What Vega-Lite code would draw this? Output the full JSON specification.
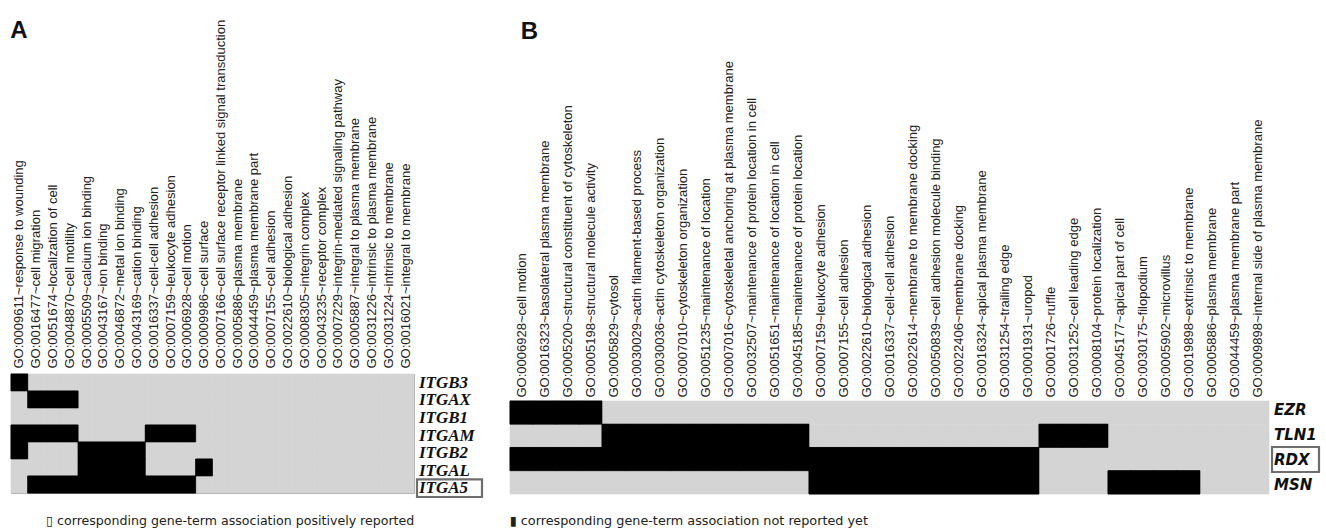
{
  "$schema": "https://vega.github.io/schema/vega-lite/v6.json",
  "background": "white",
  "padding": {"left": 10, "top": 18, "right": 5, "bottom": 5},
  "config": {
    "view": {"stroke": null},
    "axis": {"labelAngle": -90, "labelFont": "Liberation Sans", "labelFontSize": 13, "labelColor": "#222", "ticks": false, "domain": false, "labelLimit": 0, "labelOverlap": false, "grid": false}
  },
  "datasets": {
    "termsA": [
      {"c":1,"term":"GO:0009611~response to wounding"},
      {"c":2,"term":"GO:0016477~cell migration"},
      {"c":3,"term":"GO:0051674~localization of cell"},
      {"c":4,"term":"GO:0048870~cell motility"},
      {"c":5,"term":"GO:0005509~calcium ion binding"},
      {"c":6,"term":"GO:0043167~ion binding"},
      {"c":7,"term":"GO:0046872~metal ion binding"},
      {"c":8,"term":"GO:0043169~cation binding"},
      {"c":9,"term":"GO:0016337~cell-cell adhesion"},
      {"c":10,"term":"GO:0007159~leukocyte adhesion"},
      {"c":11,"term":"GO:0006928~cell motion"},
      {"c":12,"term":"GO:0009986~cell surface"},
      {"c":13,"term":"GO:0007166~cell surface receptor linked signal transduction"},
      {"c":14,"term":"GO:0005886~plasma membrane"},
      {"c":15,"term":"GO:0044459~plasma membrane part"},
      {"c":16,"term":"GO:0007155~cell adhesion"},
      {"c":17,"term":"GO:0022610~biological adhesion"},
      {"c":18,"term":"GO:0008305~integrin complex"},
      {"c":19,"term":"GO:0043235~receptor complex"},
      {"c":20,"term":"GO:0007229~integrin-mediated signaling pathway"},
      {"c":21,"term":"GO:0005887~integral to plasma membrane"},
      {"c":22,"term":"GO:0031226~intrinsic to plasma membrane"},
      {"c":23,"term":"GO:0031224~intrinsic to membrane"},
      {"c":24,"term":"GO:0016021~integral to membrane"}
    ],
    "termsB": [
      {"c":1,"term":"GO:0006928~cell motion"},
      {"c":2,"term":"GO:0016323~basolateral plasma membrane"},
      {"c":3,"term":"GO:0005200~structural constituent of cytoskeleton"},
      {"c":4,"term":"GO:0005198~structural molecule activity"},
      {"c":5,"term":"GO:0005829~cytosol"},
      {"c":6,"term":"GO:0030029~actin filament-based process"},
      {"c":7,"term":"GO:0030036~actin cytoskeleton organization"},
      {"c":8,"term":"GO:0007010~cytoskeleton organization"},
      {"c":9,"term":"GO:0051235~maintenance of location"},
      {"c":10,"term":"GO:0007016~cytoskeletal anchoring at plasma membrane"},
      {"c":11,"term":"GO:0032507~maintenance of protein location in cell"},
      {"c":12,"term":"GO:0051651~maintenance of location in cell"},
      {"c":13,"term":"GO:0045185~maintenance of protein location"},
      {"c":14,"term":"GO:0007159~leukocyte adhesion"},
      {"c":15,"term":"GO:0007155~cell adhesion"},
      {"c":16,"term":"GO:0022610~biological adhesion"},
      {"c":17,"term":"GO:0016337~cell-cell adhesion"},
      {"c":18,"term":"GO:0022614~membrane to membrane docking"},
      {"c":19,"term":"GO:0050839~cell adhesion molecule binding"},
      {"c":20,"term":"GO:0022406~membrane docking"},
      {"c":21,"term":"GO:0016324~apical plasma membrane"},
      {"c":22,"term":"GO:0031254~trailing edge"},
      {"c":23,"term":"GO:0001931~uropod"},
      {"c":24,"term":"GO:0001726~ruffle"},
      {"c":25,"term":"GO:0031252~cell leading edge"},
      {"c":26,"term":"GO:0008104~protein localization"},
      {"c":27,"term":"GO:0045177~apical part of cell"},
      {"c":28,"term":"GO:0030175~filopodium"},
      {"c":29,"term":"GO:0005902~microvillus"},
      {"c":30,"term":"GO:0019898~extrinsic to membrane"},
      {"c":31,"term":"GO:0005886~plasma membrane"},
      {"c":32,"term":"GO:0044459~plasma membrane part"},
      {"c":33,"term":"GO:0009898~internal side of plasma membrane"}
    ],
    "genesA": [
      {"gene":"ITGB3","hl":0},{"gene":"ITGAX","hl":0},{"gene":"ITGB1","hl":0},{"gene":"ITGAM","hl":0},{"gene":"ITGB2","hl":0},{"gene":"ITGAL","hl":0},{"gene":"ITGA5","hl":1}
    ],
    "genesB": [
      {"gene":"EZR","hl":0},{"gene":"TLN1","hl":0},{"gene":"RDX","hl":1},{"gene":"MSN","hl":0}
    ],
    "cellsA": [
      {"g":"ITGB3","c":1,"v":1},{"g":"ITGB3","c":2,"v":0},{"g":"ITGB3","c":3,"v":0},{"g":"ITGB3","c":4,"v":0},{"g":"ITGB3","c":5,"v":0},{"g":"ITGB3","c":6,"v":0},{"g":"ITGB3","c":7,"v":0},{"g":"ITGB3","c":8,"v":0},{"g":"ITGB3","c":9,"v":0},{"g":"ITGB3","c":10,"v":0},{"g":"ITGB3","c":11,"v":0},{"g":"ITGB3","c":12,"v":0},{"g":"ITGB3","c":13,"v":0},{"g":"ITGB3","c":14,"v":0},{"g":"ITGB3","c":15,"v":0},{"g":"ITGB3","c":16,"v":0},{"g":"ITGB3","c":17,"v":0},{"g":"ITGB3","c":18,"v":0},{"g":"ITGB3","c":19,"v":0},{"g":"ITGB3","c":20,"v":0},{"g":"ITGB3","c":21,"v":0},{"g":"ITGB3","c":22,"v":0},{"g":"ITGB3","c":23,"v":0},{"g":"ITGB3","c":24,"v":0},
      {"g":"ITGAX","c":1,"v":0},{"g":"ITGAX","c":2,"v":1},{"g":"ITGAX","c":3,"v":1},{"g":"ITGAX","c":4,"v":1},{"g":"ITGAX","c":5,"v":0},{"g":"ITGAX","c":6,"v":0},{"g":"ITGAX","c":7,"v":0},{"g":"ITGAX","c":8,"v":0},{"g":"ITGAX","c":9,"v":0},{"g":"ITGAX","c":10,"v":0},{"g":"ITGAX","c":11,"v":0},{"g":"ITGAX","c":12,"v":0},{"g":"ITGAX","c":13,"v":0},{"g":"ITGAX","c":14,"v":0},{"g":"ITGAX","c":15,"v":0},{"g":"ITGAX","c":16,"v":0},{"g":"ITGAX","c":17,"v":0},{"g":"ITGAX","c":18,"v":0},{"g":"ITGAX","c":19,"v":0},{"g":"ITGAX","c":20,"v":0},{"g":"ITGAX","c":21,"v":0},{"g":"ITGAX","c":22,"v":0},{"g":"ITGAX","c":23,"v":0},{"g":"ITGAX","c":24,"v":0},
      {"g":"ITGB1","c":1,"v":0},{"g":"ITGB1","c":2,"v":0},{"g":"ITGB1","c":3,"v":0},{"g":"ITGB1","c":4,"v":0},{"g":"ITGB1","c":5,"v":0},{"g":"ITGB1","c":6,"v":0},{"g":"ITGB1","c":7,"v":0},{"g":"ITGB1","c":8,"v":0},{"g":"ITGB1","c":9,"v":0},{"g":"ITGB1","c":10,"v":0},{"g":"ITGB1","c":11,"v":0},{"g":"ITGB1","c":12,"v":0},{"g":"ITGB1","c":13,"v":0},{"g":"ITGB1","c":14,"v":0},{"g":"ITGB1","c":15,"v":0},{"g":"ITGB1","c":16,"v":0},{"g":"ITGB1","c":17,"v":0},{"g":"ITGB1","c":18,"v":0},{"g":"ITGB1","c":19,"v":0},{"g":"ITGB1","c":20,"v":0},{"g":"ITGB1","c":21,"v":0},{"g":"ITGB1","c":22,"v":0},{"g":"ITGB1","c":23,"v":0},{"g":"ITGB1","c":24,"v":0},
      {"g":"ITGAM","c":1,"v":1},{"g":"ITGAM","c":2,"v":1},{"g":"ITGAM","c":3,"v":1},{"g":"ITGAM","c":4,"v":1},{"g":"ITGAM","c":5,"v":0},{"g":"ITGAM","c":6,"v":0},{"g":"ITGAM","c":7,"v":0},{"g":"ITGAM","c":8,"v":0},{"g":"ITGAM","c":9,"v":1},{"g":"ITGAM","c":10,"v":1},{"g":"ITGAM","c":11,"v":1},{"g":"ITGAM","c":12,"v":0},{"g":"ITGAM","c":13,"v":0},{"g":"ITGAM","c":14,"v":0},{"g":"ITGAM","c":15,"v":0},{"g":"ITGAM","c":16,"v":0},{"g":"ITGAM","c":17,"v":0},{"g":"ITGAM","c":18,"v":0},{"g":"ITGAM","c":19,"v":0},{"g":"ITGAM","c":20,"v":0},{"g":"ITGAM","c":21,"v":0},{"g":"ITGAM","c":22,"v":0},{"g":"ITGAM","c":23,"v":0},{"g":"ITGAM","c":24,"v":0},
      {"g":"ITGB2","c":1,"v":1},{"g":"ITGB2","c":2,"v":0},{"g":"ITGB2","c":3,"v":0},{"g":"ITGB2","c":4,"v":0},{"g":"ITGB2","c":5,"v":1},{"g":"ITGB2","c":6,"v":1},{"g":"ITGB2","c":7,"v":1},{"g":"ITGB2","c":8,"v":1},{"g":"ITGB2","c":9,"v":0},{"g":"ITGB2","c":10,"v":0},{"g":"ITGB2","c":11,"v":0},{"g":"ITGB2","c":12,"v":0},{"g":"ITGB2","c":13,"v":0},{"g":"ITGB2","c":14,"v":0},{"g":"ITGB2","c":15,"v":0},{"g":"ITGB2","c":16,"v":0},{"g":"ITGB2","c":17,"v":0},{"g":"ITGB2","c":18,"v":0},{"g":"ITGB2","c":19,"v":0},{"g":"ITGB2","c":20,"v":0},{"g":"ITGB2","c":21,"v":0},{"g":"ITGB2","c":22,"v":0},{"g":"ITGB2","c":23,"v":0},{"g":"ITGB2","c":24,"v":0},
      {"g":"ITGAL","c":1,"v":0},{"g":"ITGAL","c":2,"v":0},{"g":"ITGAL","c":3,"v":0},{"g":"ITGAL","c":4,"v":0},{"g":"ITGAL","c":5,"v":1},{"g":"ITGAL","c":6,"v":1},{"g":"ITGAL","c":7,"v":1},{"g":"ITGAL","c":8,"v":1},{"g":"ITGAL","c":9,"v":0},{"g":"ITGAL","c":10,"v":0},{"g":"ITGAL","c":11,"v":0},{"g":"ITGAL","c":12,"v":1},{"g":"ITGAL","c":13,"v":0},{"g":"ITGAL","c":14,"v":0},{"g":"ITGAL","c":15,"v":0},{"g":"ITGAL","c":16,"v":0},{"g":"ITGAL","c":17,"v":0},{"g":"ITGAL","c":18,"v":0},{"g":"ITGAL","c":19,"v":0},{"g":"ITGAL","c":20,"v":0},{"g":"ITGAL","c":21,"v":0},{"g":"ITGAL","c":22,"v":0},{"g":"ITGAL","c":23,"v":0},{"g":"ITGAL","c":24,"v":0},
      {"g":"ITGA5","c":1,"v":0},{"g":"ITGA5","c":2,"v":1},{"g":"ITGA5","c":3,"v":1},{"g":"ITGA5","c":4,"v":1},{"g":"ITGA5","c":5,"v":1},{"g":"ITGA5","c":6,"v":1},{"g":"ITGA5","c":7,"v":1},{"g":"ITGA5","c":8,"v":1},{"g":"ITGA5","c":9,"v":1},{"g":"ITGA5","c":10,"v":1},{"g":"ITGA5","c":11,"v":1},{"g":"ITGA5","c":12,"v":0},{"g":"ITGA5","c":13,"v":0},{"g":"ITGA5","c":14,"v":0},{"g":"ITGA5","c":15,"v":0},{"g":"ITGA5","c":16,"v":0},{"g":"ITGA5","c":17,"v":0},{"g":"ITGA5","c":18,"v":0},{"g":"ITGA5","c":19,"v":0},{"g":"ITGA5","c":20,"v":0},{"g":"ITGA5","c":21,"v":0},{"g":"ITGA5","c":22,"v":0},{"g":"ITGA5","c":23,"v":0},{"g":"ITGA5","c":24,"v":0}
    ],
    "cellsB": [
      {"g":"EZR","c":1,"v":1},{"g":"EZR","c":2,"v":1},{"g":"EZR","c":3,"v":1},{"g":"EZR","c":4,"v":1},{"g":"EZR","c":5,"v":0},{"g":"EZR","c":6,"v":0},{"g":"EZR","c":7,"v":0},{"g":"EZR","c":8,"v":0},{"g":"EZR","c":9,"v":0},{"g":"EZR","c":10,"v":0},{"g":"EZR","c":11,"v":0},{"g":"EZR","c":12,"v":0},{"g":"EZR","c":13,"v":0},{"g":"EZR","c":14,"v":0},{"g":"EZR","c":15,"v":0},{"g":"EZR","c":16,"v":0},{"g":"EZR","c":17,"v":0},{"g":"EZR","c":18,"v":0},{"g":"EZR","c":19,"v":0},{"g":"EZR","c":20,"v":0},{"g":"EZR","c":21,"v":0},{"g":"EZR","c":22,"v":0},{"g":"EZR","c":23,"v":0},{"g":"EZR","c":24,"v":0},{"g":"EZR","c":25,"v":0},{"g":"EZR","c":26,"v":0},{"g":"EZR","c":27,"v":0},{"g":"EZR","c":28,"v":0},{"g":"EZR","c":29,"v":0},{"g":"EZR","c":30,"v":0},{"g":"EZR","c":31,"v":0},{"g":"EZR","c":32,"v":0},{"g":"EZR","c":33,"v":0},
      {"g":"TLN1","c":1,"v":0},{"g":"TLN1","c":2,"v":0},{"g":"TLN1","c":3,"v":0},{"g":"TLN1","c":4,"v":0},{"g":"TLN1","c":5,"v":1},{"g":"TLN1","c":6,"v":1},{"g":"TLN1","c":7,"v":1},{"g":"TLN1","c":8,"v":1},{"g":"TLN1","c":9,"v":1},{"g":"TLN1","c":10,"v":1},{"g":"TLN1","c":11,"v":1},{"g":"TLN1","c":12,"v":1},{"g":"TLN1","c":13,"v":1},{"g":"TLN1","c":14,"v":0},{"g":"TLN1","c":15,"v":0},{"g":"TLN1","c":16,"v":0},{"g":"TLN1","c":17,"v":0},{"g":"TLN1","c":18,"v":0},{"g":"TLN1","c":19,"v":0},{"g":"TLN1","c":20,"v":0},{"g":"TLN1","c":21,"v":0},{"g":"TLN1","c":22,"v":0},{"g":"TLN1","c":23,"v":0},{"g":"TLN1","c":24,"v":1},{"g":"TLN1","c":25,"v":1},{"g":"TLN1","c":26,"v":1},{"g":"TLN1","c":27,"v":0},{"g":"TLN1","c":28,"v":0},{"g":"TLN1","c":29,"v":0},{"g":"TLN1","c":30,"v":0},{"g":"TLN1","c":31,"v":0},{"g":"TLN1","c":32,"v":0},{"g":"TLN1","c":33,"v":0},
      {"g":"RDX","c":1,"v":1},{"g":"RDX","c":2,"v":1},{"g":"RDX","c":3,"v":1},{"g":"RDX","c":4,"v":1},{"g":"RDX","c":5,"v":1},{"g":"RDX","c":6,"v":1},{"g":"RDX","c":7,"v":1},{"g":"RDX","c":8,"v":1},{"g":"RDX","c":9,"v":1},{"g":"RDX","c":10,"v":1},{"g":"RDX","c":11,"v":1},{"g":"RDX","c":12,"v":1},{"g":"RDX","c":13,"v":1},{"g":"RDX","c":14,"v":1},{"g":"RDX","c":15,"v":1},{"g":"RDX","c":16,"v":1},{"g":"RDX","c":17,"v":1},{"g":"RDX","c":18,"v":1},{"g":"RDX","c":19,"v":1},{"g":"RDX","c":20,"v":1},{"g":"RDX","c":21,"v":1},{"g":"RDX","c":22,"v":1},{"g":"RDX","c":23,"v":1},{"g":"RDX","c":24,"v":0},{"g":"RDX","c":25,"v":0},{"g":"RDX","c":26,"v":0},{"g":"RDX","c":27,"v":0},{"g":"RDX","c":28,"v":0},{"g":"RDX","c":29,"v":0},{"g":"RDX","c":30,"v":0},{"g":"RDX","c":31,"v":0},{"g":"RDX","c":32,"v":0},{"g":"RDX","c":33,"v":0},
      {"g":"MSN","c":1,"v":0},{"g":"MSN","c":2,"v":0},{"g":"MSN","c":3,"v":0},{"g":"MSN","c":4,"v":0},{"g":"MSN","c":5,"v":0},{"g":"MSN","c":6,"v":0},{"g":"MSN","c":7,"v":0},{"g":"MSN","c":8,"v":0},{"g":"MSN","c":9,"v":0},{"g":"MSN","c":10,"v":0},{"g":"MSN","c":11,"v":0},{"g":"MSN","c":12,"v":0},{"g":"MSN","c":13,"v":0},{"g":"MSN","c":14,"v":1},{"g":"MSN","c":15,"v":1},{"g":"MSN","c":16,"v":1},{"g":"MSN","c":17,"v":1},{"g":"MSN","c":18,"v":1},{"g":"MSN","c":19,"v":1},{"g":"MSN","c":20,"v":1},{"g":"MSN","c":21,"v":1},{"g":"MSN","c":22,"v":1},{"g":"MSN","c":23,"v":1},{"g":"MSN","c":24,"v":0},{"g":"MSN","c":25,"v":0},{"g":"MSN","c":26,"v":0},{"g":"MSN","c":27,"v":1},{"g":"MSN","c":28,"v":1},{"g":"MSN","c":29,"v":1},{"g":"MSN","c":30,"v":1},{"g":"MSN","c":31,"v":0},{"g":"MSN","c":32,"v":0},{"g":"MSN","c":33,"v":0}
    ]
  },
  "resolve": {"scale": {"x": "independent", "y": "independent"}},
  "spacing": 25,
  "hconcat": [
    {
      "title": {"text": "A", "anchor": "start", "offset": -24, "font": "Liberation Sans", "fontSize": 24, "fontWeight": "bold", "color": "#111"},
      "spacing": 0,
      "resolve": {"scale": {"x": "independent", "y": "independent"}},
      "hconcat": [
        {
          "width": 403, "height": 119,
          "view": {"stroke": "#a8a8a8"},
          "title": {"text": "▯ corresponding gene-term association positively reported", "orient": "bottom", "anchor": "end", "offset": 22, "font": "DejaVu Sans", "fontSize": 12.6, "fontWeight": "normal", "color": "#222"},
          "data": {"name": "cellsA"},
          "transform": [{"lookup": "c", "from": {"data": {"name": "termsA"}, "key": "c", "fields": ["term"]}}],
          "encoding": {
            "x": {"field": "term", "type": "nominal", "sort": {"field": "c", "op": "min"}, "scale": {"paddingInner": 0, "paddingOuter": 0}, "axis": {"orient": "top", "labelPadding": 6, "title": null}},
            "y": {"field": "g", "type": "nominal", "scale": {"domain": ["ITGB3","ITGAX","ITGB1","ITGAM","ITGB2","ITGAL","ITGA5"], "paddingInner": 0, "paddingOuter": 0}, "axis": null},
            "fill": {"field": "v", "type": "nominal", "scale": {"domain": [0, 1], "range": ["#d4d4d4", "#000000"]}, "legend": null},
            "stroke": {"field": "v", "type": "nominal", "scale": {"domain": [0, 1], "range": ["#d4d4d4", "#000000"]}, "legend": null}
          },
          "layer": [
            {"mark": {"type": "rect", "strokeWidth": 0.6}},
            {"transform": [{"filter": {"field": "v", "equal": 1}}], "mark": {"type": "rect", "strokeWidth": 0.6}}
          ]
        },
        {
          "width": 65, "height": 123,
          "data": {"name": "genesA"},
          "layer": [
            {
              "transform": [{"filter": {"field": "hl", "equal": 1}}],
              "mark": {"type": "rect", "fill": "white", "stroke": "#6e6e6e", "strokeWidth": 2.2},
              "encoding": {
                "x": {"datum": 0, "type": "quantitative", "scale": {"domain": [0, 1], "nice": false}, "axis": null},
                "x2": {"datum": 1},
                "y": {"field": "gene", "type": "nominal", "scale": {"domain": ["ITGB3","ITGAX","ITGB1","ITGAM","ITGB2","ITGAL","ITGA5"], "paddingInner": 0, "paddingOuter": 0}, "axis": null}
              }
            },
            {
              "mark": {"type": "text", "align": "left", "dx": 2, "font": "Liberation Serif", "fontSize": 17, "fontWeight": "bold", "fontStyle": "italic", "color": "#111"},
              "encoding": {
                "x": {"datum": 0, "type": "quantitative", "scale": {"domain": [0, 1], "nice": false}, "axis": null},
                "y": {"field": "gene", "type": "nominal", "scale": {"domain": ["ITGB3","ITGAX","ITGB1","ITGAM","ITGB2","ITGAL","ITGA5"], "paddingInner": 0, "paddingOuter": 0}, "axis": null},
                "text": {"field": "gene"}
              }
            }
          ]
        }
      ]
    },
    {
      "title": {"text": "B", "anchor": "start", "dx": 11, "offset": 17, "font": "Liberation Sans", "fontSize": 24, "fontWeight": "bold", "color": "#111"},
      "spacing": 0,
      "resolve": {"scale": {"x": "independent", "y": "independent"}},
      "hconcat": [
        {
          "width": 759, "height": 120,
          "title": {"text": "▮ corresponding gene-term association not reported yet", "orient": "bottom", "anchor": "start", "offset": 21, "font": "DejaVu Sans", "fontSize": 12.8, "fontWeight": "normal", "color": "#222"},
          "data": {"name": "cellsB"},
          "transform": [{"lookup": "c", "from": {"data": {"name": "termsB"}, "key": "c", "fields": ["term"]}}],
          "encoding": {
            "x": {"field": "term", "type": "nominal", "sort": {"field": "c", "op": "min"}, "scale": {"paddingInner": 0, "paddingOuter": 0}, "axis": {"orient": "top", "labelPadding": 4, "offset": -27, "title": null}},
            "y": {"field": "g", "type": "nominal", "scale": {"domain": ["EZR","TLN1","RDX","MSN"], "paddingInner": 0, "paddingOuter": 0.5806, "align": 1}, "axis": null},
            "fill": {"field": "v", "type": "nominal", "scale": {"domain": [0, 1], "range": ["#d4d4d4", "#000000"]}, "legend": null},
            "stroke": {"field": "v", "type": "nominal", "scale": {"domain": [0, 1], "range": ["#d4d4d4", "#000000"]}, "legend": null}
          },
          "layer": [
            {"mark": {"type": "rect", "strokeWidth": 0.6}},
            {"transform": [{"filter": {"field": "v", "equal": 1}}], "mark": {"type": "rect", "strokeWidth": 0.6}}
          ]
        },
        {
          "width": 47, "height": 123,
          "data": {"name": "genesB"},
          "layer": [
            {
              "transform": [{"filter": {"field": "hl", "equal": 1}}],
              "mark": {"type": "rect", "fill": "white", "stroke": "#6e6e6e", "strokeWidth": 2.2},
              "encoding": {
                "x": {"datum": 0, "type": "quantitative", "scale": {"domain": [0, 1], "nice": false}, "axis": null},
                "x2": {"datum": 1},
                "y": {"field": "gene", "type": "nominal", "scale": {"domain": ["EZR","TLN1","RDX","MSN"], "paddingInner": 0, "paddingOuter": 0.46, "align": 1}, "axis": null}
              }
            },
            {
              "mark": {"type": "text", "align": "left", "dx": 2, "font": "DejaVu Sans", "fontSize": 15, "fontWeight": "bold", "fontStyle": "italic", "color": "#111"},
              "encoding": {
                "x": {"datum": 0, "type": "quantitative", "scale": {"domain": [0, 1], "nice": false}, "axis": null},
                "y": {"field": "gene", "type": "nominal", "scale": {"domain": ["EZR","TLN1","RDX","MSN"], "paddingInner": 0, "paddingOuter": 0.46, "align": 1}, "axis": null},
                "text": {"field": "gene"}
              }
            }
          ]
        }
      ]
    }
  ]
}
